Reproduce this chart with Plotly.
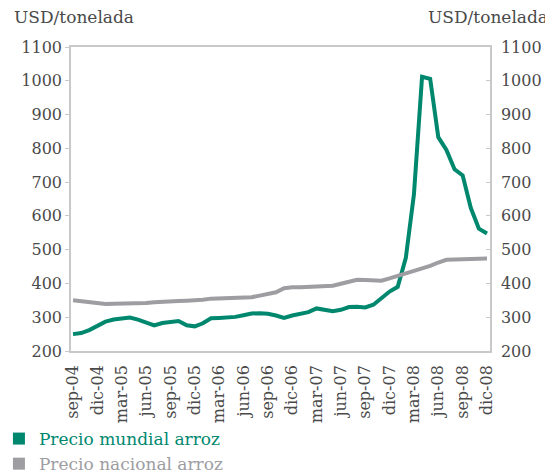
import plotly.graph_objects as go

months_es = ["ene", "feb", "mar", "abr", "may", "jun", "jul", "ago", "sep", "oct", "nov", "dic"]
categories = []
for yr in range(2004, 2009):
    for m in range(12):
        if yr == 2004 and m < 8:
            continue
        categories.append(f"{months_es[m]}-{str(yr)[2:]}")

precio_mundial = [250, 253, 262, 276, 287, 293, 296, 299, 293, 284, 276, 283, 286,
                  289, 276, 273, 282, 297, 298, 299, 301, 306, 311, 312, 310, 305,
                  298, 305, 311, 315, 326, 322, 318, 322, 330, 331, 329, 337, 355,
                  376, 390, 476, 664, 1012, 1006, 833, 795, 738, 720, 624, 562, 548]

precio_nacional = [350, 347, 343, 340, 339, 340, 340, 341, 341, 342, 344, 346, 348,
                   348, 349, 350, 352, 355, 356, 356, 356, 356, 359, 364, 368, 374,
                   386, 389, 389, 390, 390, 391, 393, 399, 405, 411, 410, 409, 408,
                   415, 422, 428, 435, 443, 452, 462, 470, 471, 471, 472, 473, 474]

tick_labels = categories[::3]
y_ticks = list(range(200, 1101, 100))

GREEN = "#00886F"
GRAY = "#9D9DA2"
TEXT = "#4A4A4A"
AXIS = "#C9C9C9"
FONT = "DejaVu Serif"

fig = go.Figure()
fig.add_trace(go.Scatter(x=categories, y=precio_mundial, mode="lines",
                         line=dict(color=GREEN, width=4), showlegend=False))
fig.add_trace(go.Scatter(x=categories, y=precio_nacional, mode="lines", yaxis="y2",
                         line=dict(color=GRAY, width=4), showlegend=False))
fig.add_trace(go.Scatter(x=[None], y=[None], mode="markers",
                         marker=dict(symbol="square", size=12, color=GREEN),
                         name=f"<span style='color:{GREEN}'>Precio mundial arroz</span>"))
fig.add_trace(go.Scatter(x=[None], y=[None], mode="markers",
                         marker=dict(symbol="square", size=12, color=GRAY),
                         name=f"<span style='color:{GRAY}'>Precio nacional arroz</span>"))

fig.update_layout(
    width=545, height=467,
    margin=dict(l=63, r=63, t=39, b=124, autoexpand=False),
    paper_bgcolor="white", plot_bgcolor="white",
    font=dict(family=FONT, size=16, color=TEXT),
    xaxis=dict(type="category", range=[-0.25, len(categories) - 1 + 0.37],
               tickmode="array", tickvals=tick_labels, ticktext=tick_labels,
               tickangle=-90, ticks="", showgrid=False, zeroline=False,
               showline=True, linecolor=AXIS, linewidth=1.5, mirror=True,
               ticklabelstandoff=6, tickfont=dict(size=16), automargin=False),
    yaxis=dict(range=[200, 1100], tickvals=y_ticks, showgrid=False, zeroline=False,
               showline=True, linecolor=AXIS, linewidth=1.5, automargin=False,
               ticks="outside", ticklen=4, tickcolor=AXIS, tickfont=dict(size=16)),
    yaxis2=dict(range=[200, 1100], tickvals=y_ticks, overlaying="y", side="right",
                showgrid=False, zeroline=False, showline=True, linecolor=AXIS, linewidth=1.5,
                ticks="inside", ticklen=4, tickcolor=AXIS, ticklabelstandoff=6,
                tickfont=dict(size=16), automargin=False),
    legend=dict(xref="paper", yref="container", x=-0.172, y=0.1156,
                xanchor="left", yanchor="top", orientation="v",
                font=dict(size=17), itemwidth=30, tracegroupgap=0,
                bgcolor="rgba(0,0,0,0)"),
    annotations=[
        dict(text="USD/tonelada", xref="paper", yref="paper", x=-0.141, y=1.099,
             xanchor="left", yanchor="middle", showarrow=False, font=dict(size=17, color=TEXT)),
        dict(text="USD/tonelada", xref="paper", yref="paper", x=1.143, y=1.099,
             xanchor="right", yanchor="middle", showarrow=False, font=dict(size=17, color=TEXT)),
    ],
)

fig.write_html("out.html")
